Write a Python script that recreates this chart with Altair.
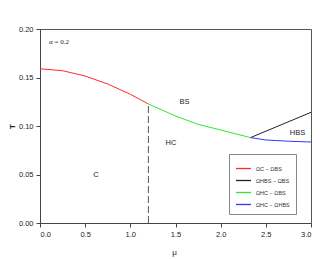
import altair as alt
import pandas as pd

# ---- data ----
series_names = ["ΩC − ΩBS", "ΩHBS − ΩBS", "ΩHC − ΩBS", "ΩHC − ΩHBS"]
series_colors = ["#ff2a2a", "#222222", "#2ee82e", "#3535ff"]

mu_c_bs = [0.0, 0.25, 0.5, 0.75, 1.0, 1.2]
t_c_bs = [0.159, 0.157, 0.1515, 0.1433, 0.1327, 0.1227]

mu_hbs_bs = [2.33, 3.0]
t_hbs_bs = [0.088, 0.1141]

mu_hc_bs = [1.2, 1.5, 1.75, 2.0, 2.33]
t_hc_bs = [0.1227, 0.1103, 0.1017, 0.0959, 0.088]

mu_hc_hbs = [2.33, 2.5, 2.75, 3.0]
t_hc_hbs = [0.088, 0.0856, 0.0843, 0.0835]

dash_mu = [1.2, 1.2]
dash_t = [0.0, 0.1227]

label_text = ["BS", "HC", "C", "HBS"]
label_mu = [1.6, 1.45, 0.62, 2.85]
label_t = [0.125, 0.082, 0.05, 0.093]

alpha_text = ["α = 0.2"]
alpha_mu = [0.21]
alpha_t = [0.187]

x_ticks = [0.0, 0.5, 1.0, 1.5, 2.0, 2.5, 3.0]
y_ticks = [0.0, 0.05, 0.10, 0.15, 0.20]

# ---- build table ----
rows = []
for name, mus, ts in zip(series_names,
                         [mu_c_bs, mu_hbs_bs, mu_hc_bs, mu_hc_hbs],
                         [t_c_bs, t_hbs_bs, t_hc_bs, t_hc_hbs]):
    for i, (m, t) in enumerate(zip(mus, ts)):
        rows.append({"mu": m, "T": t, "series": name, "i": i})
lines_df = pd.DataFrame(rows)
dash_df = pd.DataFrame({"mu": dash_mu, "T": dash_t})
labels_df = pd.DataFrame({"mu": label_mu, "T": label_t, "text": label_text})
alpha_df = pd.DataFrame({"mu": alpha_mu, "T": alpha_t, "text": alpha_text})

xscale = alt.Scale(domain=[0, 3], nice=False, zero=False)
yscale = alt.Scale(domain=[0, 0.2], nice=False, zero=False)

xenc = alt.X("mu:Q", scale=xscale, title="μ",
             axis=alt.Axis(values=x_ticks, format=".1f", grid=False,
                           titleX=134, titleY=29, titleBaseline="middle",
                           titleFontWeight="normal"))
yenc = alt.Y("T:Q", scale=yscale, title="T",
             axis=alt.Axis(values=y_ticks, format=".2f", grid=False,
                           titleX=-28, titleY=97, titleBaseline="middle",
                           titleAngle=270, titleFontWeight="bold"))

lines = alt.Chart(lines_df).mark_line(strokeWidth=1, clip=True).encode(
    x=xenc, y=yenc,
    color=alt.Color("series:N",
                    scale=alt.Scale(domain=series_names, range=series_colors),
                    sort=series_names,
                    legend=alt.Legend(title=None, orient="none",
                                      legendX=189, legendY=125,
                                      symbolType="stroke", symbolSize=225,
                                      symbolStrokeWidth=1.3,
                                      labelFontSize=5.5, labelFont="Liberation Sans",
                                      labelColor="#333", labelOffset=4,
                                      rowPadding=0, padding=6,
                                      strokeColor="#888", fillColor="white",
                                      labelLimit=80)),
    order="i:Q",
)

dash = alt.Chart(dash_df).mark_line(color="#555", strokeWidth=1,
                                     strokeDash=[7, 3]).encode(
    x=alt.X("mu:Q", scale=xscale), y=alt.Y("T:Q", scale=yscale))

labels = alt.Chart(labels_df).mark_text(font="Liberation Sans", fontSize=7.5,
                                         color="#222").encode(
    x=alt.X("mu:Q", scale=xscale), y=alt.Y("T:Q", scale=yscale), text="text:N")

alpha_lbl = alt.Chart(alpha_df).mark_text(font="Liberation Serif", fontSize=7,
                                           color="#222").encode(
    x=alt.X("mu:Q", scale=xscale), y=alt.Y("T:Q", scale=yscale), text="text:N")

chart = alt.layer(dash, lines, labels, alpha_lbl).properties(
    width=271, height=194,
    autosize=alt.AutoSizeParams(type="none"),
    padding={"left": 32, "top": 21, "right": 8, "bottom": 35},
    background="white",
).configure_view(stroke="#555", strokeWidth=1).configure_axis(
    labelFont="Liberation Sans", labelFontSize=7.5, labelColor="#222",
    titleFont="Liberation Sans", titleFontSize=8, titleColor="#222",
    domainColor="#444", tickColor="#444", tickSize=4, labelPadding=3,
)

chart.save("out.html", embed_options={"renderer": "svg", "actions": False})
